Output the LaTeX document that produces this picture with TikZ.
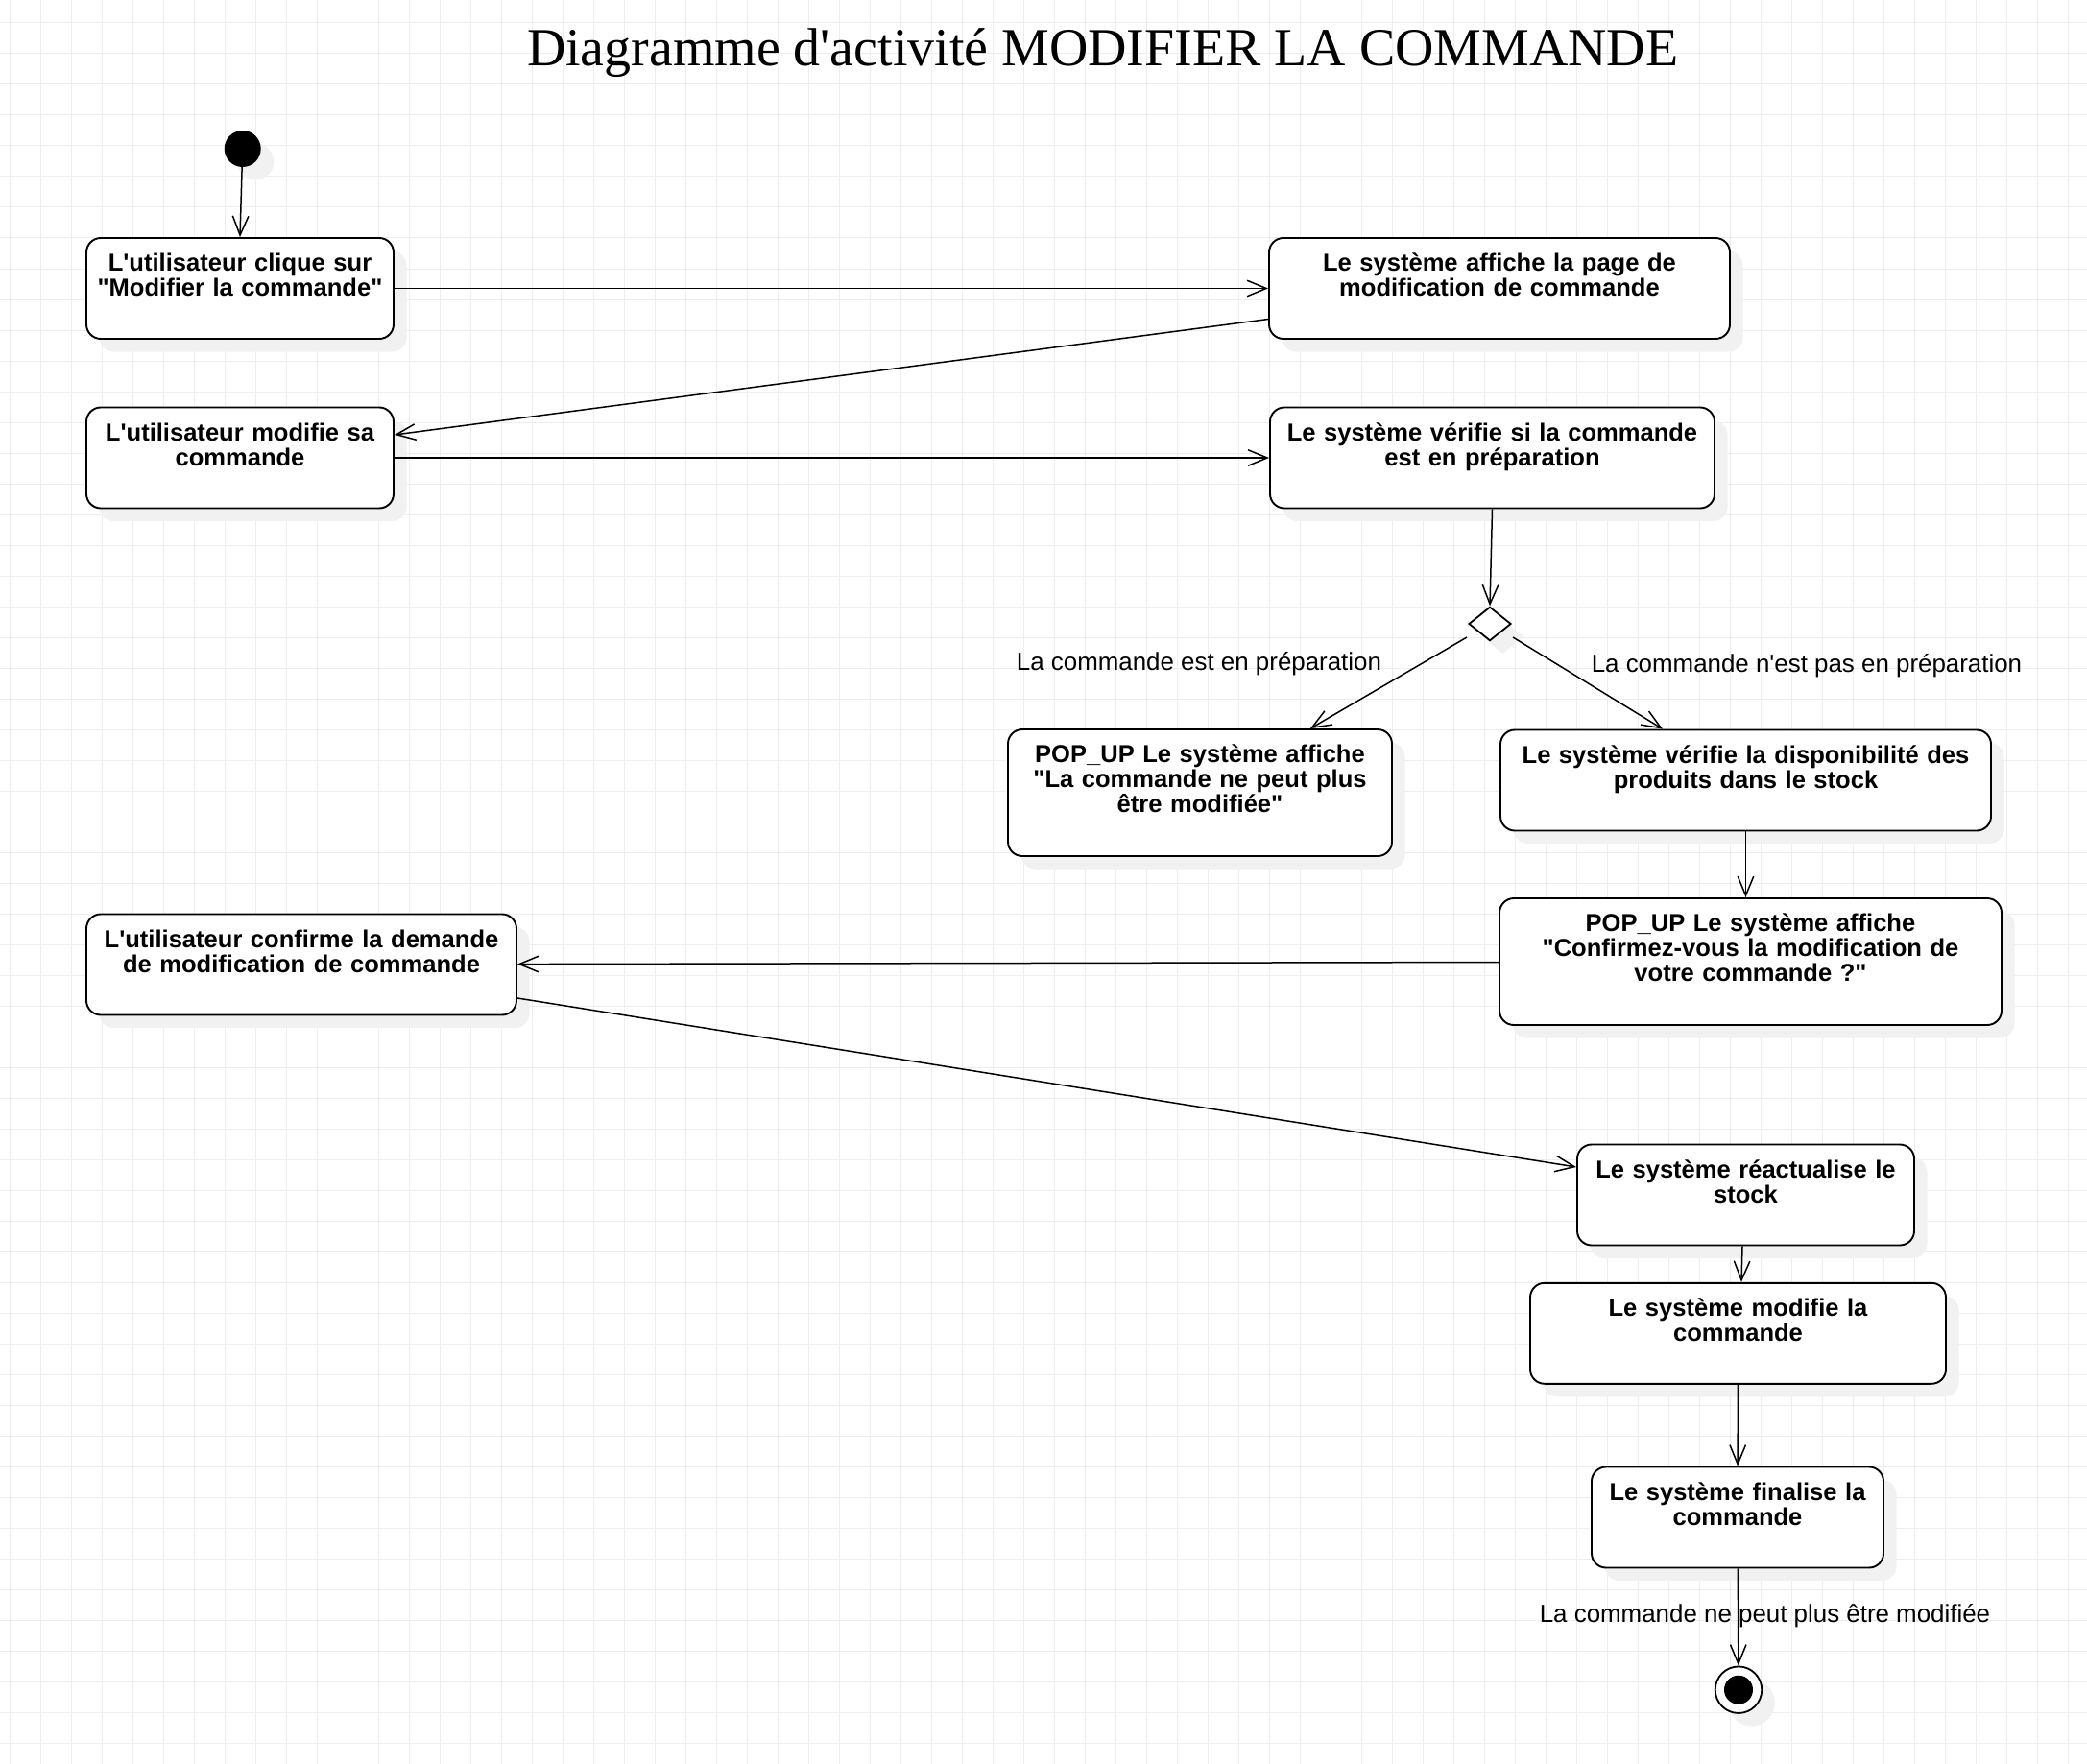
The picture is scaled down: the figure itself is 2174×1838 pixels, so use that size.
\documentclass[tikz,border=0pt]{standalone}
\usepackage{fontspec}
\newfontfamily\sansfont{Liberation Sans}[Ligatures=CommonOff]
\newfontfamily\titlefont{Liberation Serif}
\usetikzlibrary{arrows.meta, shapes.geometric, shadows, calc}
\definecolor{gridgray}{HTML}{EDEDED}
\definecolor{shadowgray}{HTML}{F1F1F1}
\tikzset{
boxshadow/.style = {drop shadow={shadow xshift=13.5pt, shadow yshift=-13.5pt,
                    fill=shadowgray, opacity=1}},
act/.style = {rectangle, draw=black, line width=1.9pt, rounded corners=15pt,
              fill=white, boxshadow,
              font={\sansfont\bfseries\fontsize{25.55pt}{26pt}\selectfont},
              align=center, text width=#1-12pt, inner xsep=6pt, inner ysep=12.7pt,
              text height=22pt, text depth=57.6pt},
act/.default = 320pt, % width of the box
actbig/.style = {act=#1, text depth=84.6pt}
}
\tikzset{
startdot/.style = {circle, fill=black, minimum size=38pt, inner sep=0pt, boxshadow},
endring/.style = {circle, draw=black, line width=1.8pt, fill=white,
                  minimum size=48.5pt, inner sep=0pt, boxshadow},
enddot/.style = {circle, fill=black, minimum size=30pt, inner sep=0pt},
choice/.style = {diamond, draw=black, line width=1.8pt, fill=white,
                 minimum width=44pt, minimum height=35.4pt, inner sep=0pt, boxshadow},
flow/.style = {-{Straight Barb[length=20pt, width=16.5pt]}, line width=1.5pt},
guard/.style = {font={\sansfont\fontsize{25.9pt}{26pt}\selectfont},
                anchor=base, inner sep=0pt},
titletext/.style = {font={\titlefont\fontsize{55.9pt}{60pt}\selectfont},
                    anchor=base, inner sep=0pt},
gridline/.style = {draw=gridgray, line width=1pt}
}

\begin{document}
\begin{tikzpicture}[x=1pt, y=-1pt]
  \useasboundingbox[fill=white] (0,0) rectangle (2174,1838);

  % Grid
    \foreach \k in {0,...,67} \draw[gridline] (10.7+32*\k,0) -- (10.7+32*\k,1838);
    \foreach \k in {0,...,56} \draw[gridline] (0,24+32*\k) -- (2174,24+32*\k);

  % Title
    \node[titletext] (title) at (1148.7,68.3) {Diagramme d'activité MODIFIER LA COMMANDE};

  % Start
    \node[startdot] (start) at (252.7,155) {};

  % Boxes
    \node[act=320pt] (clic) at (250,300.5) {L'utilisateur clique sur\\"Modifier la commande"};
    \node[act=480pt] (pageModif) at (1562,300.5) {Le système affiche la page de\\modification de commande};
    \node[act=320pt] (modif) at (250,477) {L'utilisateur modifie sa\\commande};
    \node[act=463pt] (verifPrep) at (1554.5,477) {Le système vérifie si la commande\\est en préparation};
    \node[choice] (choix) at (1552,650) {};
    \node[actbig=400pt] (popBloque) at (1250,826) {POP\_UP Le système affiche\\"La commande ne peut plus\\être modifiée"};
    \node[act=511pt] (verifStock) at (1818.5,813) {Le système vérifie la disponibilité des\\produits dans le stock};
    \node[actbig=523pt] (popConfirm) at (1823.5,1002) {POP\_UP Le système affiche\\"Confirmez-vous la modification de\\votre commande ?"};
    \node[act=448pt] (confirm) at (314,1005) {L'utilisateur confirme la demande\\de modification de commande};
    \node[act=351pt] (stock) at (1818.5,1245) {Le système réactualise le\\stock};
    \node[act=433pt] (modifCmd) at (1810.5,1389.3) {Le système modifie la\\commande};
    \node[act=304pt] (finalise) at (1810,1581) {Le système finalise la\\commande};

  % End
    \node[endring] (endRing) at (1811,1760.7) {};
    \node[enddot] (endDot) at (endRing) {};

  % Guards
    \node[guard] (gOui) at (1249,698.6) {La commande est en préparation};
    \node[guard] (gNon) at (1882,700) {La commande n'est pas en préparation};
    \node[guard] (gFin) at (1838.5,1690) {La commande ne peut plus être modifiée};

  % Lines
    \draw[flow] (start) -- (clic.north);
    \draw[flow] (clic) -- (pageModif);
    \draw[flow] ($(pageModif.west)+(0,32)$) -- ($(modif.east)+(0,-24)$);
    \draw[flow] (modif) -- (verifPrep);
    \draw[flow] (verifPrep.south) -- (choix.north);
    \draw[flow] ($(choix)+(-24,14)$) -- ($(popBloque.north)+(115,0)$);
    \draw[flow] ($(choix)+(24,14)$) -- ($(verifStock.north)+(-86.5,0)$);
    \draw[flow] (verifStock.south) -- (verifStock.south |- popConfirm.north);
    \draw[flow] (popConfirm) -- (confirm);
    \draw[flow] ($(confirm.east)+(0,35)$) -- ($(stock.west)+(0,-29)$);
    \draw[flow] ($(stock.south)+(-3.5,0)$) -- ($(modifCmd.north)+(3.5,0)$);
    \draw[flow] (modifCmd) -- (finalise);
    \draw[flow] (finalise) -- (endRing);
  \end{tikzpicture}
\end{document}
